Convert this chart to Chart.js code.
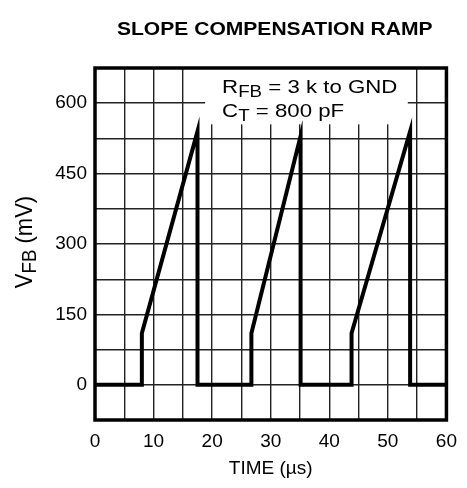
<!DOCTYPE html>
<html lang="en">
<head>
<meta charset="UTF-8">
<title>Slope Compensation Ramp</title>
<script src="https://cdn.jsdelivr.net/npm/chart.js"></script>
<style>
  html, body { margin: 0; padding: 0; background: #fff; }
  canvas { display: block; }
</style>
</head>
<body>
<canvas id="rampChart" width="467" height="488"></canvas>
<script>
// waveform: time in us, feedback voltage in mV
const timeUs = [0, 8.0, 8.0, 17.5, 17.5, 26.7, 26.7, 35.1, 35.1, 43.8, 43.8, 53.8, 53.8, 60];
const vfbMv  = [0, 0, 110, 540, 0, 0, 110, 530, 0, 0, 110, 540, 0, 0];

// axis ticks
const xTickLabels = [0, 10, 20, 30, 40, 50, 60];
const yTickLabels = [0, 150, 300, 450, 600];

// note box in the upper right (data units)
const noteFrom = 18.8, noteTo = 53.4, noteBottom = 555;

const FONT = '"Liberation Sans", Arial, Helvetica, sans-serif';
const STRETCH = 1.17;   // the original lettering is a bit wide

// draw a row of text pieces (for subscripts), optionally stretched sideways
function drawRuns(ctx, runs, x, y, sx, align) {
  ctx.save();
  let w = 0;
  runs.forEach(r => { ctx.font = r.font; w += ctx.measureText(r.t).width; });
  ctx.translate(x, y);
  ctx.scale(sx, 1);
  let cx = align === 'center' ? -w / 2 : 0;
  ctx.fillStyle = '#000';
  ctx.textBaseline = 'alphabetic';
  runs.forEach(r => {
    ctx.font = r.font;
    ctx.fillText(r.t, cx, r.dy || 0);
    cx += ctx.measureText(r.t).width;
  });
  ctx.restore();
}

const extras = {
  id: 'extras',
  beforeDatasetsDraw(chart) {
    const { ctx, chartArea, scales } = chart;
    const left = scales.x.getPixelForValue(noteFrom);
    const right = scales.x.getPixelForValue(noteTo);
    const bottom = scales.y.getPixelForValue(noteBottom);
    ctx.save();
    ctx.fillStyle = '#fff';
    ctx.fillRect(left, chartArea.top, right - left, bottom - chartArea.top);
    ctx.restore();

    const big = '19px ' + FONT, small = '16px ' + FONT;
    const tx = left + 17;
    drawRuns(ctx, [
      { t: 'R', font: big },
      { t: 'FB', font: small, dy: 4 },
      { t: ' = 3 k to GND', font: big }
    ], tx, chartArea.top + 25, STRETCH, 'left');
    drawRuns(ctx, [
      { t: 'C', font: big },
      { t: 'T', font: small, dy: 4 },
      { t: ' = 800 pF', font: big }
    ], tx, chartArea.top + 49, STRETCH, 'left');
  },
  afterDraw(chart) {
    const { ctx, chartArea } = chart;
    // heavy frame round the plot
    ctx.save();
    ctx.strokeStyle = '#000';
    ctx.lineWidth = 3.5;
    ctx.strokeRect(chartArea.left, chartArea.top,
      chartArea.right - chartArea.left, chartArea.bottom - chartArea.top);
    ctx.restore();

    // title
    drawRuns(ctx, [{ t: 'SLOPE COMPENSATION RAMP', font: 'bold 18px ' + FONT }],
      (chartArea.left + chartArea.right) / 2 + 4, 35, STRETCH, 'center');

    // y axis title with subscript, turned
    const midY = (chartArea.top + chartArea.bottom) / 2;
    ctx.save();
    ctx.translate(32, midY - 2);
    ctx.rotate(-Math.PI / 2);
    ctx.scale(1, STRETCH);
    drawRuns(ctx, [
      { t: 'V', font: '20px ' + FONT },
      { t: 'FB', font: '17px ' + FONT, dy: 3 },
      { t: ' (mV)', font: '20px ' + FONT }
    ], 0, 0, 1.1, 'center');
    ctx.restore();
  }
};

const ctx = document.getElementById('rampChart').getContext('2d');
const rampChart = new Chart(ctx, {
  type: 'line',
  data: {
    datasets: [{
      data: timeUs.map((t, i) => ({ x: t, y: vfbMv[i] })),
      borderColor: '#000',
      borderWidth: 4,
      pointRadius: 0,
      tension: 0,
      fill: false
    }]
  },
  options: {
    responsive: false,
    animation: false,
    devicePixelRatio: 1,
    layout: { padding: { top: 68, right: 18, left: 0, bottom: 0 } },
    plugins: {
      legend: { display: false },
      tooltip: { enabled: false },
      title: { display: false }
    },
    scales: {
      x: {
        type: 'linear',
        min: 0,
        max: 60,
        afterFit: s => { s.height = 68; },
        grid: { color: '#222', lineWidth: 1.4, drawTicks: false },
        border: { display: false },
        ticks: {
          stepSize: 5,
          autoSkip: false,
          maxRotation: 0,
          padding: 10,
          color: '#000',
          font: { family: FONT, size: 19 },
          callback: v => xTickLabels.includes(v) ? String(v) : ''
        },
        title: {
          display: true,
          text: 'TIME (µs)',
          color: '#000',
          font: { family: FONT, size: 19 },
          padding: { top: 0, bottom: 8 }
        }
      },
      y: {
        min: -75,
        max: 675,
        afterFit: s => { s.width = 95; },
        grid: { color: '#222', lineWidth: 1.4, drawTicks: false },
        border: { display: false },
        ticks: {
          stepSize: 75,
          autoSkip: false,
          padding: 8,
          color: '#000',
          font: { family: FONT, size: 19 },
          callback: v => yTickLabels.includes(v) ? String(v) : ''
        }
      }
    }
  },
  plugins: [extras]
});
</script>
</body>
</html>
